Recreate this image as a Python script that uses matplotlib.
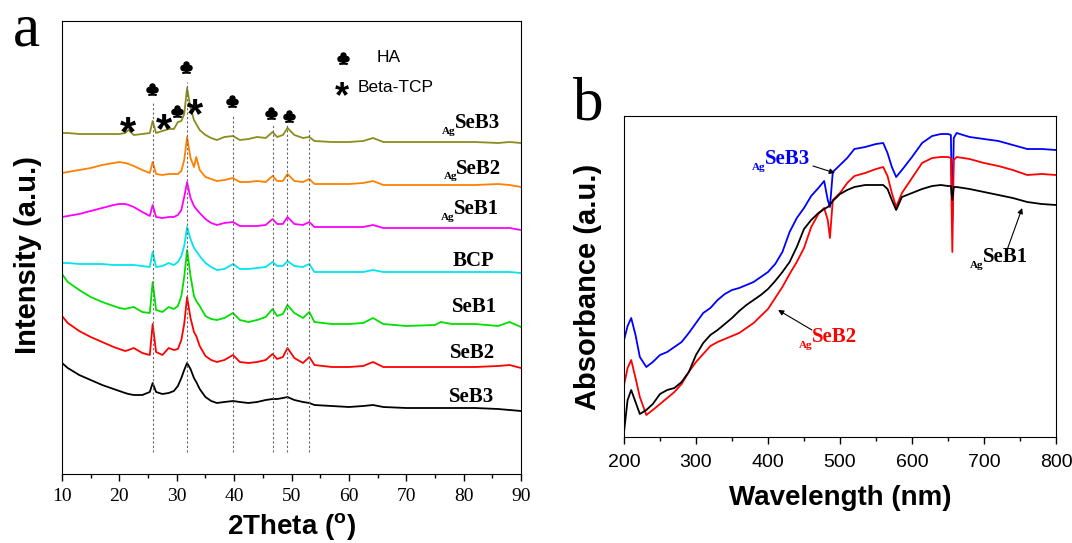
import matplotlib
matplotlib.use("Agg")
import matplotlib.pyplot as plt
from matplotlib.ticker import MultipleLocator

plt.rcParams['mathtext.fontset'] = 'custom'
plt.rcParams['mathtext.rm'] = 'Liberation Sans'
plt.rcParams['mathtext.bf'] = 'Liberation Sans:bold'

# ---------------- panel a: XRD patterns (offset, a.u.) ----------------
two_theta = [10, 11, 13, 15, 17, 19, 20, 21, 21.6, 22.5, 24, 25.3, 25.8, 26.4, 27.5,
             28.6, 29.5, 30.2, 30.8, 31.3, 31.8, 32.4, 33.0, 33.4, 34.0, 35.0, 36.0,
             37.0, 38.3, 39.8, 41, 42.5, 44, 45.5, 46.7, 47.5, 48.5, 49.3, 50.5, 52,
             53.1, 54, 57, 60, 62.5, 64.2, 66, 70, 75, 76, 78, 82, 86, 88, 90]

xrd_ag_seb3 = [341, 341, 340, 340, 340, 340, 340, 341, 344, 339, 340, 341, 353, 341, 343,
               345, 345, 352, 353, 360, 386, 366, 354, 350, 344, 339, 336,
               334, 337, 338, 334, 335, 337, 336, 342, 337, 339, 346, 339, 336,
               337, 333, 332, 332, 333, 336, 332, 332, 332, 332, 332, 332, 331, 332, 331]
xrd_ag_seb2 = [301, 302, 304, 306, 309, 311, 312, 311, 310, 308, 304, 301, 312, 300, 299,
               300, 300, 300, 303, 314, 337, 316, 307, 317, 304, 297, 295,
               293, 294, 296, 292, 292, 293, 292, 298, 293, 293, 300, 293, 292,
               295, 290, 290, 290, 291, 293, 289, 289, 289, 289, 289, 289, 290, 289, 287]
xrd_ag_seb1 = [257, 258, 260, 263, 266, 269, 270, 270, 269, 267, 262, 258, 269, 257, 256,
               257, 257, 259, 264, 277, 292, 276, 268, 265, 261, 255, 251,
               249, 251, 252, 248, 248, 248, 249, 255, 250, 250, 257, 250, 249,
               252, 247, 247, 247, 247, 249, 246, 246, 246, 246, 246, 246, 246, 246, 244]
xrd_bcp = [211, 211, 210, 210, 210, 209, 209, 209, 209, 209, 208, 207, 222, 207, 208,
           211, 209, 212, 218, 228, 247, 235, 226, 223, 218, 211, 207,
           204, 205, 210, 205, 205, 206, 207, 212, 208, 208, 213, 208, 207,
           210, 202, 202, 202, 202, 204, 202, 202, 202, 202, 202, 202, 202, 202, 201]
xrd_seb1 = [200, 192, 184, 177, 172, 168, 166, 165, 166, 167, 162, 161, 192, 164, 162,
            167, 165, 168, 178, 197, 224, 198, 178, 173, 168, 158, 155,
            154, 156, 161, 154, 152, 154, 157, 165, 158, 160, 169, 161, 156,
            162, 152, 150, 150, 151, 156, 150, 148, 149, 152, 150, 150, 148, 152, 147]
xrd_seb2 = [158, 151, 143, 137, 132, 127, 125, 123, 124, 126, 121, 119, 150, 122, 119,
            126, 124, 125, 134, 150, 177, 156, 142, 138, 128, 118, 114,
            112, 114, 119, 112, 111, 112, 114, 120, 115, 117, 126, 116, 111,
            117, 109, 107, 107, 108, 112, 107, 107, 107, 107, 107, 107, 108, 109, 106]
xrd_seb3 = [111, 106, 99, 94, 89, 85, 83, 81, 80, 79, 79, 82, 91, 82, 80,
            81, 83, 88, 96, 104, 111, 105, 96, 92, 85, 77, 73,
            71, 72, 73, 72, 71, 72, 74, 75, 75, 76, 77, 74, 72,
            71, 69, 68, 67, 68, 69, 67, 66, 66, 66, 66, 66, 65, 64, 63]

xrd_names = ['SeB3', 'SeB2', 'SeB1', 'BCP', 'SeB1', 'SeB2', 'SeB3']
xrd_has_ag = [True, True, True, False, False, False, False]
xrd_colors = ['#8c8c1e', '#ff8000', '#ff00ff', '#00e5ee', '#00e000', '#ff0000', '#000000']
xrd_label_x = [86.3, 86.6, 86.1, 85.4, 85.8, 85.4, 85.4]
xrd_label_y = [345.5, 300.5, 259.5, 208.5, 161.5, 115.5, 71.5]

# reference peak lines and phase markers
ha_lines = [25.8, 31.8, 39.8, 46.7, 49.3, 53.1]
ha_line_top = [371, 392, 359, 349, 349, 344]
ha_mark_x = [25.7, 31.65, 30.0, 39.7, 46.5, 49.5]
ha_mark_y = [385, 407, 363, 373, 361, 358]
tcp_mark_x = [21.45, 27.8, 33.2]
tcp_mark_y = [353, 356, 371]

# ---------------- panel b: UV-vis absorbance ----------------
wavelength = [200, 205, 210, 216, 222, 231, 240, 250, 260, 270, 280, 290, 300, 310, 320,
              330, 340, 350, 360, 370, 380, 390, 400, 410, 420, 430, 440, 450, 460, 470,
              478, 483, 486, 490, 500, 510, 520, 535, 550, 560, 566, 572, 578, 586, 600,
              614, 628, 640, 650, 654, 656, 658, 662, 680, 700, 720, 740, 760, 780, 800]
abs_ag_seb3 = [97, 111, 119, 102, 80, 70, 75, 82, 85, 90, 95, 104, 114, 124, 129,
               137, 143, 147, 149, 152, 155, 160, 165, 173, 185, 205, 219, 229, 241, 249,
               256, 237, 230, 265, 272, 279, 288, 290, 293, 294, 284, 270, 260, 267, 280,
               294, 301, 303, 303, 302, 215, 299, 304, 300, 298, 296, 292, 288, 288, 287]
abs_ag_seb2 = [52, 69, 77, 59, 40, 22, 27, 33, 39, 45, 53, 65, 75, 83, 91,
               95, 98, 101, 104, 109, 114, 121, 128, 139, 150, 163, 175, 189, 210, 223,
               229, 217, 199, 237, 244, 254, 261, 264, 268, 270, 261, 244, 230, 244, 259,
               274, 279, 280, 280, 279, 185, 277, 280, 278, 274, 271, 267, 262, 263, 262]
abs_ag_seb1 = [5, 37, 47, 35, 23, 27, 33, 43, 47, 49, 55, 65, 82, 94, 102,
               107, 113, 119, 126, 132, 137, 142, 148, 156, 165, 175, 190, 208, 217, 224,
               228, 230, 232, 236, 243, 247, 250, 252, 252, 252, 248, 237, 227, 240, 244,
               248, 251, 252, 251, 251, 237, 250, 250, 248, 245, 242, 239, 235, 233, 232]

uv_colors = ['#0000ff', '#ff0000', '#000000']
uv_names = ['SeB3', 'SeB2', 'SeB1']
uv_label_x = [458, 523.6, 761]
uv_label_y = [272.5, 94.5, 175]
uv_arrow_from = [(462.5, 271), (461, 107), (732, 187)]
uv_arrow_to = [(493, 264), (414, 127), (753, 229)]

serif = 'Liberation Serif'
sans = 'Liberation Sans'


def sample_label(ax, x, y, name, color, ag=True):
    t = ax.text(x, y, name, ha='right', va='baseline', color=color,
                fontsize=15, fontweight='bold', family=serif)
    if ag:
        ax.annotate('Ag', xy=(0, 0), xycoords=t, xytext=(0.8, -0.6),
                    textcoords='offset points', ha='right', va='baseline',
                    color=color, fontsize=8, fontweight='bold', family=serif)
    return t


fig = plt.figure(figsize=(10.72, 5.43), dpi=100)

# ----- panel a -----
ax1 = fig.add_axes([62 / 1072, 69 / 543, 459 / 1072, 453 / 543])
series = [xrd_ag_seb3, xrd_ag_seb2, xrd_ag_seb1, xrd_bcp, xrd_seb1, xrd_seb2, xrd_seb3]
for i, ys in enumerate(series):
    ax1.plot(two_theta, ys, color=xrd_colors[i], lw=1.3)
    sample_label(ax1, xrd_label_x[i], xrd_label_y[i], xrd_names[i], 'black', xrd_has_ag[i])

for xv, top in zip(ha_lines, ha_line_top):
    ax1.plot([xv, xv], [22, top], color='#666666', lw=0.8, ls=(0, (2, 2)))

ax1.plot(ha_mark_x, ha_mark_y, ls='none', marker=r'$\clubsuit$', ms=8, color='black')
for xv, yv in zip(tcp_mark_x, tcp_mark_y):
    ax1.annotate('*', xy=(xv, yv), xytext=(0, -17.5), textcoords='offset points',
                 ha='center', va='baseline', fontsize=30, fontweight='bold', family=sans)

# legend
ax1.plot([58.95], [416], ls='none', marker=r'$\clubsuit$', ms=8, color='black')
ax1.annotate('*', xy=(58.8, 388), xytext=(0, -15), textcoords='offset points',
             ha='center', va='baseline', fontsize=26, fontweight='bold', family=sans)
ax1.text(64.9, 416, 'HA', ha='left', va='center', fontsize=12.5, family=sans)
ax1.text(61.6, 387, 'Beta-TCP', ha='left', va='center', fontsize=12.5, family=sans)

ax1.set_xlim(10, 90)
ax1.set_ylim(0, 453)
ax1.set_yticks([])
ax1.xaxis.set_major_locator(MultipleLocator(10))
ax1.xaxis.set_minor_locator(MultipleLocator(5))
ax1.tick_params(axis='x', which='major', direction='out', length=5, width=1, pad=5,
                labelsize=14)
ax1.tick_params(axis='x', which='minor', direction='out', length=3, width=1)
for lab in ax1.get_xticklabels():
    lab.set_fontfamily(serif)
ax1.set_xlabel(r'2Theta ($^{\mathbf{o}}$)', fontsize=20, fontweight='bold', family=sans)
ax1.xaxis.set_label_coords(0.5, -0.083)
ax1.set_ylabel('Intensity (a.u.)', fontsize=21, fontweight='bold', family=sans)
ax1.yaxis.set_label_coords(-0.044, 0.483)
fig.text(13 / 1072, 1 - 45 / 543, 'a', fontsize=44, family=serif, ha='left', va='baseline')

# ----- panel b -----
ax2 = fig.add_axes([624 / 1072, 106 / 543, 432 / 1072, 321 / 543])
uv_series = [abs_ag_seb3, abs_ag_seb2, abs_ag_seb1]
for i, ys in enumerate(uv_series):
    ax2.plot(wavelength, ys, color=uv_colors[i], lw=1.3)
    sample_label(ax2, uv_label_x[i], uv_label_y[i], uv_names[i], uv_colors[i], True)
    ax2.annotate('', xy=uv_arrow_to[i], xytext=uv_arrow_from[i],
                 arrowprops=dict(arrowstyle='-|>', color='black', lw=0.8,
                                 mutation_scale=8, shrinkA=0, shrinkB=0))

ax2.set_xlim(200, 800)
ax2.set_ylim(0, 321)
ax2.set_yticks([])
ax2.xaxis.set_major_locator(MultipleLocator(100))
ax2.xaxis.set_minor_locator(MultipleLocator(50))
ax2.tick_params(axis='x', which='major', direction='out', length=5, width=1, pad=7,
                labelsize=14)
ax2.tick_params(axis='x', which='minor', direction='out', length=3, width=1)
for lab in ax2.get_xticklabels():
    lab.set_fontfamily(sans)
ax2.set_xlabel('Wavelength (nm)', fontsize=20, fontweight='bold', family=sans)
ax2.xaxis.set_label_coords(0.5, -0.15)
ax2.set_ylabel('Absorbance (a.u.)', fontsize=21, fontweight='bold', family=sans)
ax2.yaxis.set_label_coords(-0.051, 0.467)
fig.text(573 / 1072, 1 - 119 / 543, 'b', fontsize=44, family=serif, ha='left', va='baseline')

fig.savefig('out.png', dpi=100)
